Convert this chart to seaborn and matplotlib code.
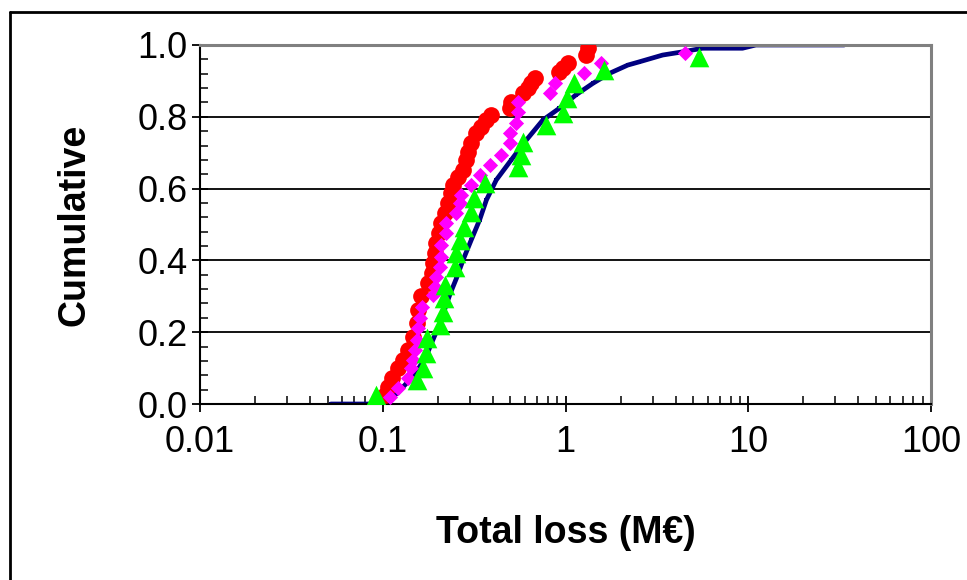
import numpy as np
import matplotlib
matplotlib.use("Agg")
import matplotlib.pyplot as plt
import matplotlib.ticker as mticker
from matplotlib.lines import Line2D
import seaborn as sns

# all losses (navy line)
all_x = [0.052, 0.075, 0.1, 0.12, 0.135, 0.155, 0.172, 0.185, 0.198, 0.209, 0.222, 0.235,
         0.253, 0.275, 0.305, 0.339, 0.369, 0.418, 0.505, 0.61, 0.752, 0.927, 1.14, 1.41,
         1.74, 2.19, 2.53, 3.4, 4.38, 5.62, 9.3, 11.0, 33.5]
all_y = [0.0, 0.0, 0.0, 0.03, 0.058, 0.095, 0.13, 0.17, 0.205, 0.234, 0.275, 0.31,
         0.35, 0.401, 0.457, 0.513, 0.568, 0.624, 0.68, 0.735, 0.791, 0.824, 0.861, 0.893,
         0.921, 0.944, 0.953, 0.972, 0.981, 0.991, 0.991, 1.0, 1.0]

# red circles
red_x = [0.103, 0.107, 0.112, 0.121, 0.129, 0.138, 0.147, 0.153, 0.156, 0.162, 0.177,
         0.185, 0.188, 0.192, 0.196, 0.203, 0.209, 0.218, 0.227, 0.237, 0.242, 0.258,
         0.275, 0.287, 0.293, 0.305, 0.325, 0.346, 0.369, 0.393, 0.494, 0.505, 0.585,
         0.622, 0.65, 0.677, 0.927, 0.967, 1.03, 1.30, 1.32]
red_y = [0.025, 0.048, 0.072, 0.099, 0.123, 0.150, 0.188, 0.225, 0.262, 0.30, 0.336,
         0.364, 0.392, 0.42, 0.448, 0.475, 0.503, 0.531, 0.559, 0.587, 0.610, 0.633,
         0.652, 0.680, 0.703, 0.726, 0.754, 0.772, 0.791, 0.805, 0.824, 0.842, 0.866,
         0.879, 0.893, 0.907, 0.926, 0.935, 0.949, 0.972, 0.991]

# magenta diamonds
mag_x = [0.109, 0.121, 0.138, 0.143, 0.147, 0.150, 0.153, 0.156, 0.159, 0.165, 0.188,
         0.192, 0.196, 0.205, 0.209, 0.209, 0.223, 0.223, 0.253, 0.264, 0.269, 0.305,
         0.339, 0.385, 0.446, 0.494, 0.494, 0.537, 0.548, 0.548, 0.819, 0.88, 1.27,
         1.57, 4.53]
mag_y = [0.02, 0.044, 0.072, 0.099, 0.123, 0.150, 0.178, 0.211, 0.239, 0.271, 0.304,
         0.327, 0.355, 0.382, 0.410, 0.443, 0.475, 0.503, 0.531, 0.559, 0.582, 0.610,
         0.638, 0.666, 0.694, 0.726, 0.756, 0.784, 0.814, 0.842, 0.867, 0.895, 0.921,
         0.949, 0.977]

# green triangles
grn_x = [0.0924, 0.153, 0.167, 0.172, 0.175, 0.207, 0.214, 0.216, 0.219, 0.247, 0.253,
         0.264, 0.277, 0.305, 0.314, 0.361, 0.553, 0.572, 0.585, 0.778, 0.966, 1.016,
         1.12, 1.63, 5.35]
grn_y = [0.025, 0.067, 0.099, 0.141, 0.183, 0.22, 0.257, 0.294, 0.331, 0.382, 0.42,
         0.457, 0.494, 0.536, 0.573, 0.615, 0.661, 0.694, 0.731, 0.777, 0.81, 0.852,
         0.893, 0.93, 0.967]

sns.set_style("white")
plt.rcParams['font.family'] = ['Liberation Sans', 'DejaVu Sans']
plt.rcParams['text.color'] = 'black'
plt.rcParams['axes.labelcolor'] = 'black'
plt.rcParams['xtick.color'] = 'black'
plt.rcParams['ytick.color'] = 'black'

fig = plt.figure(figsize=(9.67, 5.8), dpi=100)
ax = fig.add_axes([200/967, 1-404/580, 731/967, 359/580])

sns.lineplot(x=all_x, y=all_y, ax=ax, color='#000080', linewidth=3.4, sort=False,
             marker='s', markersize=3.5, markeredgewidth=0, zorder=2)
sns.scatterplot(x=red_x, y=red_y, ax=ax, color='#FF0000', marker='o', s=145,
                linewidth=0, zorder=3)
sns.scatterplot(x=mag_x, y=mag_y, ax=ax, color='#FF00FF', marker='D', s=60,
                linewidth=0, zorder=4)
sns.scatterplot(x=grn_x, y=grn_y, ax=ax, color='#00FF00', marker='^', s=200,
                linewidth=0, zorder=5)

ax.set_xscale('log')
ax.set_xlim(0.01, 100)
ax.set_ylim(0, 1.0)
ax.xaxis.set_major_locator(mticker.FixedLocator([0.01, 0.1, 1, 10, 100]))
ax.xaxis.set_major_formatter(mticker.FixedFormatter(['0.01', '0.1', '1', '10', '100']))
ax.xaxis.set_minor_locator(mticker.LogLocator(base=10, subs=np.arange(2, 10)))
ax.xaxis.set_minor_formatter(mticker.NullFormatter())
ax.yaxis.set_major_locator(mticker.MultipleLocator(0.2))
ax.yaxis.set_major_formatter(mticker.FormatStrFormatter('%.1f'))
ax.yaxis.set_minor_locator(mticker.MultipleLocator(0.04))

for yv in [0.2, 0.4, 0.6, 0.8]:
    ax.axhline(yv, color='black', linewidth=1.3, zorder=1)

ax.tick_params(axis='both', which='major', direction='inout', length=12, width=1.3,
               labelsize=26, color='black', labelcolor='black')
ax.tick_params(axis='x', which='major', pad=9)
ax.tick_params(axis='y', which='major', pad=3)
ax.tick_params(axis='both', which='minor', direction='in', length=6, width=1.1,
               color='black')
ax.xaxis.set_ticks_position('bottom')
ax.yaxis.set_ticks_position('left')

for side in ['left', 'bottom']:
    ax.spines[side].set_color('black')
    ax.spines[side].set_linewidth(1.5)
for side in ['top', 'right']:
    ax.spines[side].set_color('#808080')
    ax.spines[side].set_linewidth(2.2)

ax.set_xlabel('Total loss (M€)', fontsize=27, fontweight='bold', color='black')
ax.set_ylabel('Cumulative', fontsize=27, fontweight='bold', color='black')
ax.xaxis.set_label_coords(0.5, -0.36)
ax.xaxis.label.set_va('center')
ax.yaxis.set_label_coords(-0.171, 0.5)
ax.yaxis.label.set_va('center')

# outer frame: only left and top edges are inside the picture
fig.lines.append(Line2D([9.5/967, 9.5/967], [0, 1-12/580], transform=fig.transFigure,
                        color='black', linewidth=2))
fig.lines.append(Line2D([9.5/967, 1], [1-12/580, 1-12/580], transform=fig.transFigure,
                        color='black', linewidth=2))

fig.savefig('out.png', dpi=100)
